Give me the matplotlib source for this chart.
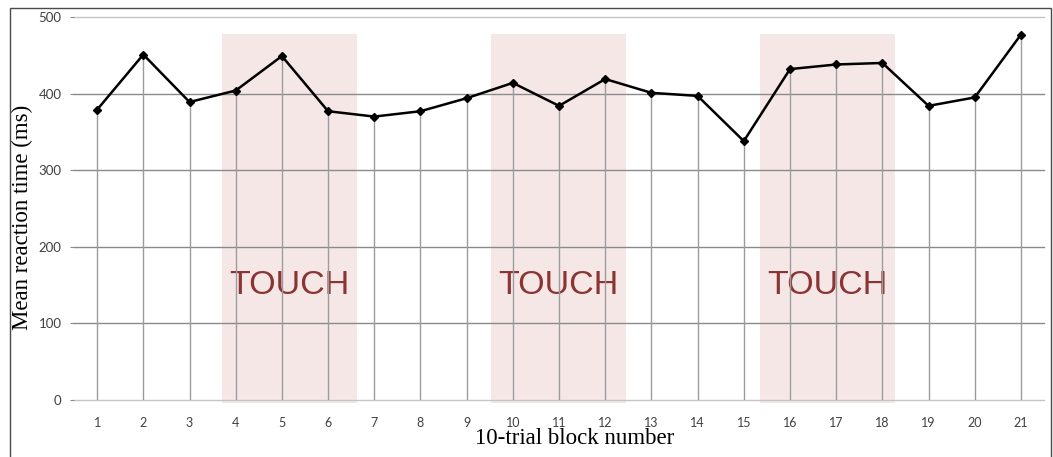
import matplotlib.pyplot as plt
from matplotlib.patches import Rectangle
import numpy as np

# mean reaction time per 10-trial block
blocks = np.arange(1, 22)
rt = [379, 451, 389, 404, 449, 377, 370, 377, 394, 414, 384,
      419, 401, 397, 338, 432, 438, 440, 384, 395, 477]

# touch phases (x-span in block units)
touch_spans = [(3.71, 6.63), (9.52, 12.46), (15.34, 18.27)]
touch_label = "TOUCH"
yticks = [0, 100, 200, 300, 400, 500]

fig = plt.figure(figsize=(10.53, 4.57), dpi=100)
ax = fig.add_axes([0.0703, 0.1247, 0.9212, 0.8381])

# frame around the figure (open at the bottom)
fig.patches.append(Rectangle((10/1053, -0.1), (1051-10)/1053, 1.1 - 8/457,
                             transform=fig.transFigure, fill=False,
                             edgecolor="#4a4a4a", linewidth=1.0))

ax.set_xlim(0.5, 21.5)
ax.set_ylim(0, 500)

# shaded touch blocks
for x0, x1 in touch_spans:
    ax.add_patch(Rectangle((x0, -4), x1 - x0, 482, facecolor="#f6e7e7",
                           edgecolor="none", zorder=0, clip_on=False))
    ax.text((x0 + x1) / 2, 150, touch_label, ha="center", va="center",
            fontsize=24.5, color="#8b3434", family="Liberation Sans", zorder=1)

# horizontal gridlines
for v in yticks:
    c = "#c4c4c4" if v in (0, 500) else "#8a8a8a"
    ax.axhline(v, color=c, linewidth=1.0, zorder=1, clip_on=False)

# drop lines from 0 to each point
ax.vlines(blocks, 0, rt, colors="#9c9c9c", linewidth=1.0, zorder=1)

ax.plot(blocks, rt, color="black", linewidth=1.8, marker="D",
        markersize=4.5, zorder=3)

for s in ax.spines.values():
    s.set_visible(False)

ax.set_yticks(yticks)
ax.set_xticks(blocks)
ax.tick_params(axis="y", length=3, color="#8a8a8a", labelsize=9.5,
               labelcolor="#404040", pad=6)
ax.tick_params(axis="x", length=0, labelsize=9, labelcolor="#404040", pad=12)
for lab in ax.get_xticklabels() + ax.get_yticklabels():
    lab.set_family("Lato")

ax.set_xlabel("10-trial block number", fontsize=16.5, family="Liberation Serif",
              va="center")
ax.xaxis.set_label_coords((575 - 74) / 970, -(438 - 400) / 383)
ax.set_ylabel("Mean reaction time (ms)", fontsize=16.5, family="Liberation Serif",
              va="center")
ax.yaxis.set_label_coords(-(74 - 22) / 970, (400 - 217) / 383)

fig.savefig("out.png", dpi=100)
